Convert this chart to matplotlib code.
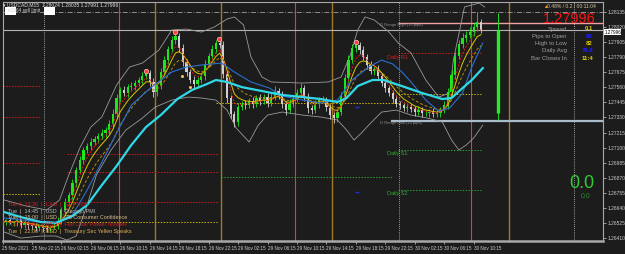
import matplotlib.pyplot as plt
import pandas as pd
from matplotlib.patches import Rectangle

plt.rcParams['font.family'] = ['Liberation Sans', 'DejaVu Sans']

# M15 closes, one candle per 2 bars
close = [1.26533, 1.26549, 1.26526, 1.26533, 1.26549, 1.26510, 1.26533, 1.26510, 1.26503, 1.26488,
         1.26503, 1.26488, 1.26480, 1.26488, 1.26503, 1.26541, 1.26625, 1.26686, 1.26739, 1.26830,
         1.26929, 1.27005, 1.27082, 1.27112, 1.27143, 1.27165, 1.27188, 1.27211, 1.27234, 1.27280,
         1.27356, 1.27478, 1.27539, 1.27516, 1.27561, 1.27569, 1.27592, 1.27615, 1.27645, 1.27668,
         1.27600, 1.27523, 1.27577, 1.27676, 1.27767, 1.27851, 1.27919, 1.27950, 1.27858, 1.27752,
         1.27676, 1.27615, 1.27584, 1.27615, 1.27645, 1.27737, 1.27798, 1.27851, 1.27897, 1.27881,
         1.27660, 1.27478, 1.27356, 1.27295, 1.27409, 1.27432, 1.27424, 1.27455, 1.27432, 1.27478,
         1.27455, 1.27485, 1.27440, 1.27485, 1.27531, 1.27501, 1.27432, 1.27386, 1.27440, 1.27470,
         1.27516, 1.27554, 1.27485, 1.27402, 1.27386, 1.27432, 1.27462, 1.27462, 1.27409, 1.27348,
         1.27325, 1.27371, 1.27493, 1.27630, 1.27767, 1.27858, 1.27881, 1.27843, 1.27790, 1.27729,
         1.27683, 1.27699, 1.27645, 1.27592, 1.27554, 1.27516, 1.27470, 1.27432, 1.27424, 1.27402,
         1.27409, 1.27394, 1.27371, 1.27386, 1.27363, 1.27363, 1.27371, 1.27356, 1.27363, 1.27386,
         1.27424, 1.27523, 1.27653, 1.27798, 1.27889, 1.27935, 1.27957, 1.27980, 1.28018, 1.28056,
         1.27996]
up_wick = [2, 1, 2, 1, 2, 1, 2, 1, 1, 2,
           1, 1, 2, 1, 2, 3, 2, 3, 2, 3,
           2, 3, 2, 2, 3, 2, 2, 3, 2, 3,
           4, 3, 2, 3, 2, 3, 2, 2, 3, 3,
           2, 3, 2, 3, 3, 2, 3, 3, 2, 3,
           2, 2, 3, 2, 2, 3, 2, 3, 2, 4,
           3, 2, 2, 2, 3, 2, 3, 2, 3, 2,
           3, 2, 3, 3, 4, 2, 3, 2, 3, 2,
           3, 4, 2, 3, 2, 3, 2, 3, 2, 2,
           3, 2, 3, 3, 4, 3, 3, 2, 3, 2,
           3, 2, 3, 2, 3, 2, 2, 3, 2, 2,
           3, 2, 2, 3, 2, 2, 2, 3, 2, 2,
           3, 3, 4, 3, 3, 4, 3, 4, 3, 8,
           2]
dn_wick = [2, 2, 1, 2, 3, 2, 2, 3, 2, 2,
           2, 3, 2, 2, 1, 2, 2, 3, 2, 3,
           3, 2, 3, 2, 3, 2, 3, 2, 3, 3,
           3, 4, 3, 2, 3, 2, 3, 2, 3, 2,
           3, 4, 3, 3, 2, 3, 2, 3, 3, 3,
           3, 2, 4, 3, 2, 3, 2, 2, 3, 2,
           3, 4, 3, 4, 3, 2, 3, 2, 3, 2,
           3, 2, 3, 2, 2, 3, 3, 4, 2, 3,
           2, 3, 3, 4, 3, 2, 3, 2, 3, 3,
           4, 3, 2, 3, 3, 2, 3, 3, 2, 3,
           2, 3, 3, 2, 3, 2, 3, 2, 3, 2,
           3, 2, 3, 2, 3, 2, 3, 2, 2, 3,
           2, 3, 3, 3, 2, 3, 3, 2, 3, 3,
           2]

time_labels = ['25 Nov 2021', '25 Nov 22:15', '26 Nov 02:15', '26 Nov 06:15', '26 Nov 10:15',
               '26 Nov 14:15', '26 Nov 18:15', '26 Nov 22:15', '29 Nov 02:15', '29 Nov 06:15',
               '29 Nov 10:15', '29 Nov 14:15', '29 Nov 18:15', '29 Nov 22:15', '30 Nov 02:15',
               '30 Nov 06:15', '30 Nov 10:15']
price_ticks = [1.28135, 1.28020, 1.27905, 1.27790, 1.27675, 1.27560, 1.27445, 1.27330,
               1.27215, 1.27100, 1.26985, 1.26870, 1.26755, 1.26640, 1.26525, 1.26410]

# slow MA (cyan) read at bar knots
cyan_bar = [1, 10, 21, 29, 38, 46, 54, 62, 70, 78, 86, 95, 103, 111, 116, 122, 130, 141, 152,
            163, 173, 182, 187, 193, 201, 207, 217, 228, 239, 244, 250, 255, 261]
cyan_val = [1.26609, 1.26571, 1.26533, 1.26526, 1.26579, 1.26663, 1.26815, 1.26960, 1.27120,
            1.27257, 1.27348, 1.27470, 1.27539, 1.27584, 1.27615, 1.27600, 1.27561, 1.27531,
            1.27501, 1.27485, 1.27470, 1.27447, 1.27478, 1.27569, 1.27615, 1.27615, 1.27569,
            1.27516, 1.27470, 1.27478, 1.27554, 1.27615, 1.27706]
blue_bar = [1, 16, 29, 38, 46, 54, 62, 70, 81, 92, 100, 108, 119, 126, 135, 145, 152, 163,
            173, 182, 190, 199, 206, 212, 217, 222, 230, 237, 243, 250, 255, 261]
blue_val = [1.26564, 1.26541, 1.26533, 1.26587, 1.26777, 1.26990, 1.27211, 1.27424, 1.27561,
            1.27676, 1.27714, 1.27729, 1.27744, 1.27676, 1.27600, 1.27554, 1.27493, 1.27462,
            1.27440, 1.27462, 1.27615, 1.27714, 1.27767, 1.27737, 1.27676, 1.27600, 1.27462,
            1.27379, 1.27402, 1.27516, 1.27714, 1.27897]
bb_up_bar = [1, 13, 24, 31, 36, 42, 48, 54, 62, 69, 76, 85, 92, 100, 108, 115, 122, 126, 131,
             135, 141, 146, 163, 177, 184, 189, 193, 197, 202, 210, 215, 222, 230, 237, 243,
             245, 249, 251, 259, 262]
bb_up_val = [1.26701, 1.26655, 1.26625, 1.26701, 1.26891, 1.27097, 1.27257, 1.27333, 1.27577,
             1.27714, 1.27744, 1.27843, 1.27996, 1.28003, 1.27980, 1.28018, 1.28079, 1.28095,
             1.28034, 1.27790, 1.27638, 1.27600, 1.27592, 1.27600, 1.27638, 1.27805, 1.27996,
             1.28095, 1.28072, 1.27980, 1.27897, 1.27820, 1.27615, 1.27485, 1.27516, 1.27767,
             1.28034, 1.28171, 1.28201, 1.28171]
bb_dn_bar = [1, 10, 21, 29, 35, 40, 46, 51, 59, 67, 76, 83, 92, 101, 108, 116, 122, 127, 134,
             139, 144, 152, 163, 173, 182, 187, 191, 195, 199, 206, 214, 222, 231, 239, 244,
             248, 252, 256, 261]
bb_dn_val = [1.26457, 1.26411, 1.26427, 1.26427, 1.26396, 1.26427, 1.26663, 1.26891, 1.27082,
             1.27234, 1.27325, 1.27409, 1.27462, 1.27485, 1.27478, 1.27462, 1.27386, 1.27249,
             1.27143, 1.27272, 1.27348, 1.27371, 1.27348, 1.27333, 1.27310, 1.27234, 1.27158,
             1.27211, 1.27272, 1.27371, 1.27386, 1.27348, 1.27325, 1.27295, 1.27158, 1.27082,
             1.27120, 1.27173, 1.27272]

peak_bar = [78, 93.5, 117.5, 192]
peak_val = [1.27683, 1.27980, 1.27927, 1.27904]
dot_bar = [97.3, 101.7]
dot_val = [1.27645, 1.27561]

# daily pivot style levels: start bar, end bar, price, colour
levels = [(0, 21, 1.27569, '#c81e1e'), (0, 21, 1.27333, '#c81e1e'), (0, 21, 1.26983, '#c81e1e'),
          (0, 21, 1.26746, '#c8b400'),
          (35, 117, 1.27051, '#c81e1e'), (35, 117, 1.26914, '#c81e1e'), (35, 117, 1.26686, '#c81e1e'),
          (35, 117, 1.26533, '#c8b400'),
          (116, 215, 1.27440, '#c8b400'), (119, 212, 1.26876, '#2ea02e'),
          (215, 260, 1.27820, '#c81e1e'), (215, 260, 1.27508, '#c8b400'),
          (215, 260, 1.27082, '#2ea02e'), (215, 260, 1.26777, '#2ea02e')]
day_sep = [22.8, 215.3, 310.5]
red_sess = [63.1, 158.8, 254.5]
gold_sess = [82.7, 118.5, 178.9, 275.1]

d_open, d_high, d_low, d_close = 1.27366, 1.28125, 1.27310, 1.27996
range_high, range_low = 1.28049, 1.27305
bid = 1.27996
pip = 0.0001

bg = '#1c1c1c'
fig = plt.figure(figsize=(6.25, 2.54), dpi=100)
fig.patch.set_facecolor(bg)
ax = fig.add_axes([2.5 / 625, 1 - 241 / 254, 600.5 / 625, 239 / 254])
ax.set_facecolor(bg)
ax.set_xlim(0, 326.3)
ax.set_ylim(1.26389, 1.28209)

for x in day_sep:
    ax.axvline(x, color='#c8c8c8', lw=0.6, ls=(0, (1, 1.5)), zorder=1)
for x in red_sess:
    ax.axvline(x, color='#c0502a', lw=0.8, zorder=1)
for x in gold_sess:
    ax.axvline(x, color='#a07828', lw=1.0, zorder=1)

for x0, x1, p, c in levels:
    ax.hlines(p, x0, x1, color=c, lw=0.7, ls=(0, (1.5, 1.5)), zorder=1)

ax.axhline(1.28135, color='#a0a0a0', lw=0.6, ls=(0, (6, 2, 1, 2)), zorder=1)
ax.axhline(bid, color='#b4b4b4', lw=0.8, zorder=1)
ax.hlines(range_high, 215, 327, color='#f0a0a0', lw=1.0, zorder=1)
ax.hlines(range_low, 211, 327, color='#a8bccc', lw=1.6, zorder=1)

ax.plot(bb_up_bar, bb_up_val, color='#9a9a9a', lw=0.6, zorder=2)
ax.plot(bb_dn_bar, bb_dn_val, color='#9a9a9a', lw=0.6, zorder=2)

bars = [2 * j for j in range(len(close))]
opens = [close[0]] + close[:-1]
cols, lows, highs, bots, heights = [], [], [], [], []
for o, c, u, d in zip(opens, close, up_wick, dn_wick):
    top, bot = max(o, c), min(o, c)
    cols.append('#1ee61e' if c >= o else '#cfcfcf')
    highs.append(top + u * pip)
    lows.append(bot - d * pip)
    bots.append(bot)
    heights.append(max(top - bot, 0.00003))
ax.vlines(bars, lows, highs, colors=cols, lw=0.6, zorder=3)
ax.bar(bars, heights, bottom=bots, width=1.2, color=cols, lw=0, zorder=3)

s = pd.Series(close)
ax.plot(bars, s.ewm(span=10, adjust=False).mean(), color='#b08a10', lw=0.7, ls=(0, (3, 2)), zorder=4)
ax.plot(bars, s.ewm(span=6, adjust=False).mean(), color='#d8c800', lw=0.7, zorder=4)
ax.plot(bars, s.ewm(span=4, adjust=False).mean(), color='#e01818', lw=0.7, ls=(0, (2, 1.5)), zorder=4)
ax.plot(blue_bar, blue_val, color='#2a70d0', lw=0.8, zorder=4)
ax.plot(cyan_bar, cyan_val, color='#30d8e8', lw=1.6, zorder=5)

ax.plot(peak_bar, peak_val, 'o', ms=3.2, mfc='#ff3c3c', mec='#ffc0c0', mew=0.5, zorder=6)
ax.plot(dot_bar, dot_val, 'o', ms=2.2, mfc='#f0c060', mec='none', zorder=6)
ax.hlines([1.26762, 1.27409], 191.5, 193.5, color='#2030e0', lw=1.0, zorder=2)

ax.vlines(269.2, d_low, d_high, color='#22dd22', lw=0.7, zorder=3)
ax.vlines(269.2, d_open, d_close, color='#22ee22', lw=2.4, zorder=3)

ax.yaxis.tick_right()
ax.set_yticks(price_ticks)
ax.set_yticklabels([f'{p:.5f}' for p in price_ticks])
ax.set_xticks([16 * k for k in range(len(time_labels))])
ax.set_xticklabels(time_labels)
for t in ax.get_xticklabels():
    t.set_ha('left')
ax.tick_params(axis='y', colors='#cfcfcf', labelsize=3.5, length=2, width=0.5, pad=1.5)
ax.tick_params(axis='x', colors='#cfcfcf', labelsize=3.3, length=2, width=0.5, pad=1.5)
for sp in ax.spines.values():
    sp.set_color('#a8a8a8')
    sp.set_linewidth(0.8)
ax.spines['bottom'].set_linewidth(1.8)

# price box on the axis, nudged just under the 1.28020 label
ax.text(1.002, bid - 0.00016, f'{bid:.5f}', transform=ax.get_yaxis_transform(), fontsize=3.3,
        color='black', va='center', ha='left',
        bbox=dict(facecolor='white', edgecolor='none', pad=0.25), clip_on=False, zorder=10)


def ftext(x, y, s, **kw):
    fig.text(x / 625, 1 - y / 254, s, **kw)


ftext(3, 5, '\u25be USDCAD,M15  1.28024 1.28035 1.27991 1.27996', fontsize=3.6, color='#e0e0e0', va='center')
ftext(8, 11, '#2864 sell limit', fontsize=3.4, color='#d0d0d0', va='center')
for x0 in (5, 44):
    fig.add_artist(Rectangle((x0 / 625, 1 - 15 / 254), 11 / 625, 8 / 254, transform=fig.transFigure,
                             facecolor='white', edgecolor='none'))

ftext(543, 7, '\u25b2', fontsize=3.4, color='#ff9a20', va='center')
ftext(547, 7, '0.48% / 0.2 / 00:11:04', fontsize=3.6, color='#d8c8a0', va='center')
ftext(569, 19, '1.27996', fontsize=10.5, color='#ff1010', va='center', ha='center')

info = [('Spread', '0.1', '#e8d000'), ('Pips to Open', '63', '#2020ff'),
        ('High to Low', '82', '#e8d000'), ('Daily Avg', '76.6', '#2020ff'),
        ('Bar Closes In', '11:4', '#e8d000')]
for k, (lab, val, c) in enumerate(info):
    y = 29 + k * 7.3
    ftext(567, y, lab, fontsize=4.3, color='#a0a0a0', va='center', ha='right')
    ftext(593, y, val, fontsize=4.3, color=c, va='center', ha='right', weight='bold')

ftext(582, 184, '0.0', fontsize=13, color='#32cd32', va='center', ha='center')
ftext(585.5, 197, '0.0', fontsize=5, color='#2e8b2e', va='center', ha='center')

ftext(380, 25, 'D Range High (15 pips)', fontsize=3.0, color='#909090', va='center')
ftext(380, 123, 'D Range Low (15 pips)', fontsize=3.0, color='#909090', va='center')
ftext(387, 57, 'Daily R1', fontsize=4, color='#d02020', va='center')
ftext(387, 153, 'Daily S1', fontsize=4, color='#30b030', va='center')
ftext(387, 193, 'Daily S2', fontsize=4, color='#30b030', va='center')

events = [('Tue  |  13:30  |  CAD  |  GDP m/m', '#d42020'),
          ('Tue  |  14:45  |  USD  |  Chicago PMI', '#b8b8b8'),
          ('Tue  |  15:00  |  USD  |  CB Consumer Confidence', '#d8c090'),
          ('Tue  |  15:00  |  USD  |  Fed Chair Powell Testifies', '#d42020'),
          ('Tue  |  22:00  |  USD  |  Treasury Sec Yellen Speaks', '#e0b050')]
for k, (txt, c) in enumerate(events):
    ftext(8, 204.3 + k * 6.85, txt, fontsize=3.9, color=c, va='center')

fig.savefig('out.png', dpi=100, facecolor=bg)
